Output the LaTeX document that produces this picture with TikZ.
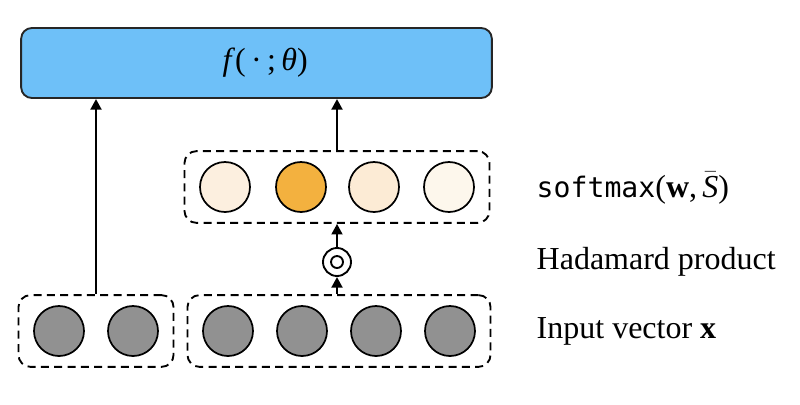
\documentclass[tikz,border=0pt]{standalone}
\usepackage{fontspec}
\setmainfont{Liberation Serif}
\setmonofont[Scale=0.88]{DejaVu Sans Mono}
\usetikzlibrary{arrows.meta,fit}
\definecolor{netblue}{HTML}{6EC0F8}
\definecolor{inputgray}{HTML}{919191}
\definecolor{soft1}{HTML}{FCEFDF}
\definecolor{soft2}{HTML}{F3B13F}
\definecolor{soft3}{HTML}{FCEBD5}
\definecolor{soft4}{HTML}{FDF7EC}
\tikzset{
    unit/.style={circle, draw, line width=1.3pt, minimum size=37.5pt, inner sep=0pt},
    group/.style={draw, dash pattern=on 6pt off 4pt, rounded corners=9pt, line width=1.4pt, inner xsep=11pt, inner ysep=7.5pt},
    flow/.style={-{Triangle[length=8pt,width=8pt]}, line width=2.1pt},
    caption/.style={anchor=west, font=\fontsize{24}{28}\selectfont}
}
\begin{document}
\begin{tikzpicture}[x=0.75pt, y=-0.75pt]
    \useasboundingbox (0,0) rectangle (800,404);
    \node[draw=black!85, line width=1.4pt, fill=netblue, rounded corners=8pt, minimum width=353pt, minimum height=52.5pt, font=\fontsize{24}{28}\selectfont] (net) at (256.5,63) {\hspace*{13pt}\textit{f}(\,·\,;\,\textit{θ})};
    \foreach \x/\n in {59/1, 133/2, 228/3, 302/4, 376/5, 450/6} {
        \node[unit, fill=inputgray] (x\n) at (\x,331) {};
    }
    \node[group, fit=(x1)(x2)] (lbox) {};
    \node[group, fit=(x3)(x6)] (rbox) {};
    \foreach \x/\n in {225/1, 301/2, 374/3, 449/4} {
        \node[unit, fill=soft\n] (s\n) at (\x,187) {};
    }
    \node[group, fit=(s1)(s4)] (sbox) {};
    \node[circle, draw, line width=1.4pt, minimum size=21pt, inner sep=0pt] (had) at (337,262) {};
    \node[circle, draw, line width=1.4pt, minimum size=9pt, inner sep=0pt] (hadin) at (had) {};
    \draw[flow] (rbox.north -| had) -- (had.south);
    \draw[flow] (had.north) -- (sbox.south -| had);
    \draw[flow] (sbox.north -| had) -- (net.south -| had);
    \draw[flow] (lbox.north) -- (lbox.north |- net.south);
    \node[caption] (lsoft) at (532,188) {\texttt{softmax}(\textbf{w},\,$\bar{\textit{S}}$)};
    \node[caption] (lhad) at (532,262) {Hadamard product};
    \node[caption] (lin) at (532,331) {Input vector \textbf{x}};
\end{tikzpicture}
\end{document}
